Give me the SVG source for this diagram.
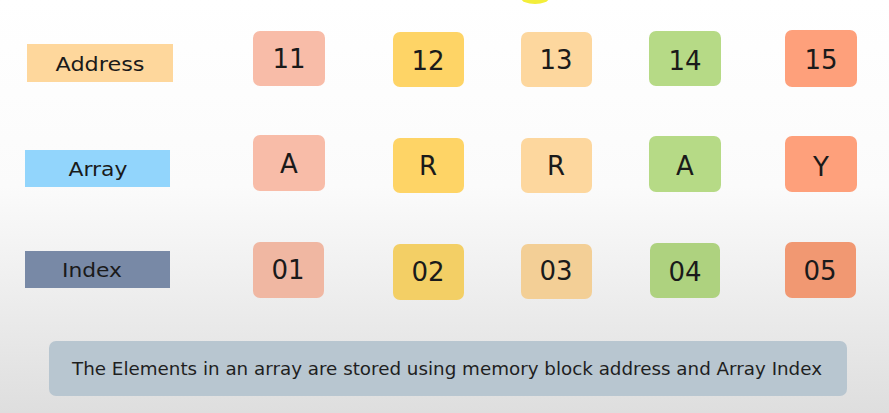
<svg xmlns="http://www.w3.org/2000/svg" width="889" height="413" viewBox="0 0 889 413">
<defs>
<linearGradient id="bg" x1="0" y1="0" x2="0" y2="1">
<stop offset="0" stop-color="#ffffff"/>
<stop offset="0.45" stop-color="#fbfbfb"/>
<stop offset="0.7" stop-color="#eeeeee"/>
<stop offset="1" stop-color="#dedede"/>
</linearGradient>
</defs>
<style>
.lbl{font-family:"DejaVu Sans","Liberation Sans",sans-serif;font-size:20px;fill:#1a1a1a;text-anchor:middle}
.cell{font-family:"DejaVu Sans","Liberation Sans",sans-serif;font-size:26px;fill:#1a1a1a;text-anchor:middle}
.cap{font-family:"DejaVu Sans","Liberation Sans",sans-serif;font-size:17px;fill:#1f1f1f}
.c1{fill:#f8bca8}.c2{fill:#fed466}.c3{fill:#fdd79e}.c4{fill:#b6da86}.c5{fill:#fea07b}
</style>
<rect width="889" height="413" fill="url(#bg)"/>
<ellipse cx="535" cy="-2" rx="14" ry="6" fill="#f3ee3a"/>
<g id="label-address"><rect x="27" y="44" width="146" height="38" fill="#fed79c"/><text class="lbl" x="100" y="71" textLength="89" lengthAdjust="spacingAndGlyphs">Address</text></g>
<g id="label-array"><rect x="25" y="150" width="145" height="37" fill="#92d5fc"/><text class="lbl" x="98" y="176" textLength="59" lengthAdjust="spacingAndGlyphs">Array</text></g>
<g id="label-index"><rect x="25" y="251" width="145" height="37" fill="#7889a6"/><text class="lbl" x="92" y="277" textLength="60" lengthAdjust="spacingAndGlyphs">Index</text></g>

<g id="addr-11"><rect class="c1" x="253" y="31" width="72" height="55" rx="7"/><text class="cell" x="289" y="68">11</text></g>
<g id="addr-12"><rect class="c2" x="393" y="32" width="71" height="55" rx="7"/><text class="cell" x="428" y="70">12</text></g>
<g id="addr-13"><rect class="c3" x="521" y="32" width="71" height="55" rx="7"/><text class="cell" x="556" y="69">13</text></g>
<g id="addr-14"><rect class="c4" x="649" y="31" width="72" height="55" rx="7"/><text class="cell" x="685" y="70">14</text></g>
<g id="addr-15"><rect class="c5" x="785" y="30" width="72" height="57" rx="7"/><text class="cell" x="821" y="69">15</text></g>

<g id="arr-A1"><rect class="c1" x="253" y="135" width="72" height="56" rx="7"/><text class="cell" x="289" y="173">A</text></g>
<g id="arr-R1"><rect class="c2" x="393" y="138" width="71" height="55" rx="7"/><text class="cell" x="428" y="175">R</text></g>
<g id="arr-R2"><rect class="c3" x="521" y="138" width="71" height="55" rx="7"/><text class="cell" x="556" y="175">R</text></g>
<g id="arr-A2"><rect class="c4" x="649" y="136" width="72" height="56" rx="7"/><text class="cell" x="685" y="175">A</text></g>
<g id="arr-Y"><rect class="c5" x="785" y="136" width="72" height="56" rx="7"/><text class="cell" x="821" y="176">Y</text></g>

<g id="idx-01"><rect x="253" y="242" width="71" height="56" rx="7" fill="#f0b7a2"/><text class="cell" x="288" y="279">01</text></g>
<g id="idx-02"><rect x="393" y="244" width="71" height="56" rx="7" fill="#f3cf65"/><text class="cell" x="428" y="281">02</text></g>
<g id="idx-03"><rect x="521" y="244" width="71" height="55" rx="7" fill="#f3cf96"/><text class="cell" x="556" y="280">03</text></g>
<g id="idx-04"><rect x="650" y="243" width="70" height="55" rx="7" fill="#aed27f"/><text class="cell" x="685" y="281">04</text></g>
<g id="idx-05"><rect x="785" y="242" width="71" height="56" rx="7" fill="#f19872"/><text class="cell" x="820" y="280">05</text></g>

<g id="caption"><rect x="49" y="341" width="798" height="55" rx="7" fill="#b8c6d0"/><text class="cap" x="72" y="375" textLength="750" lengthAdjust="spacingAndGlyphs">The Elements in an array are stored using memory block address and Array Index</text></g>
<g id="connectors"></g>
</svg>
